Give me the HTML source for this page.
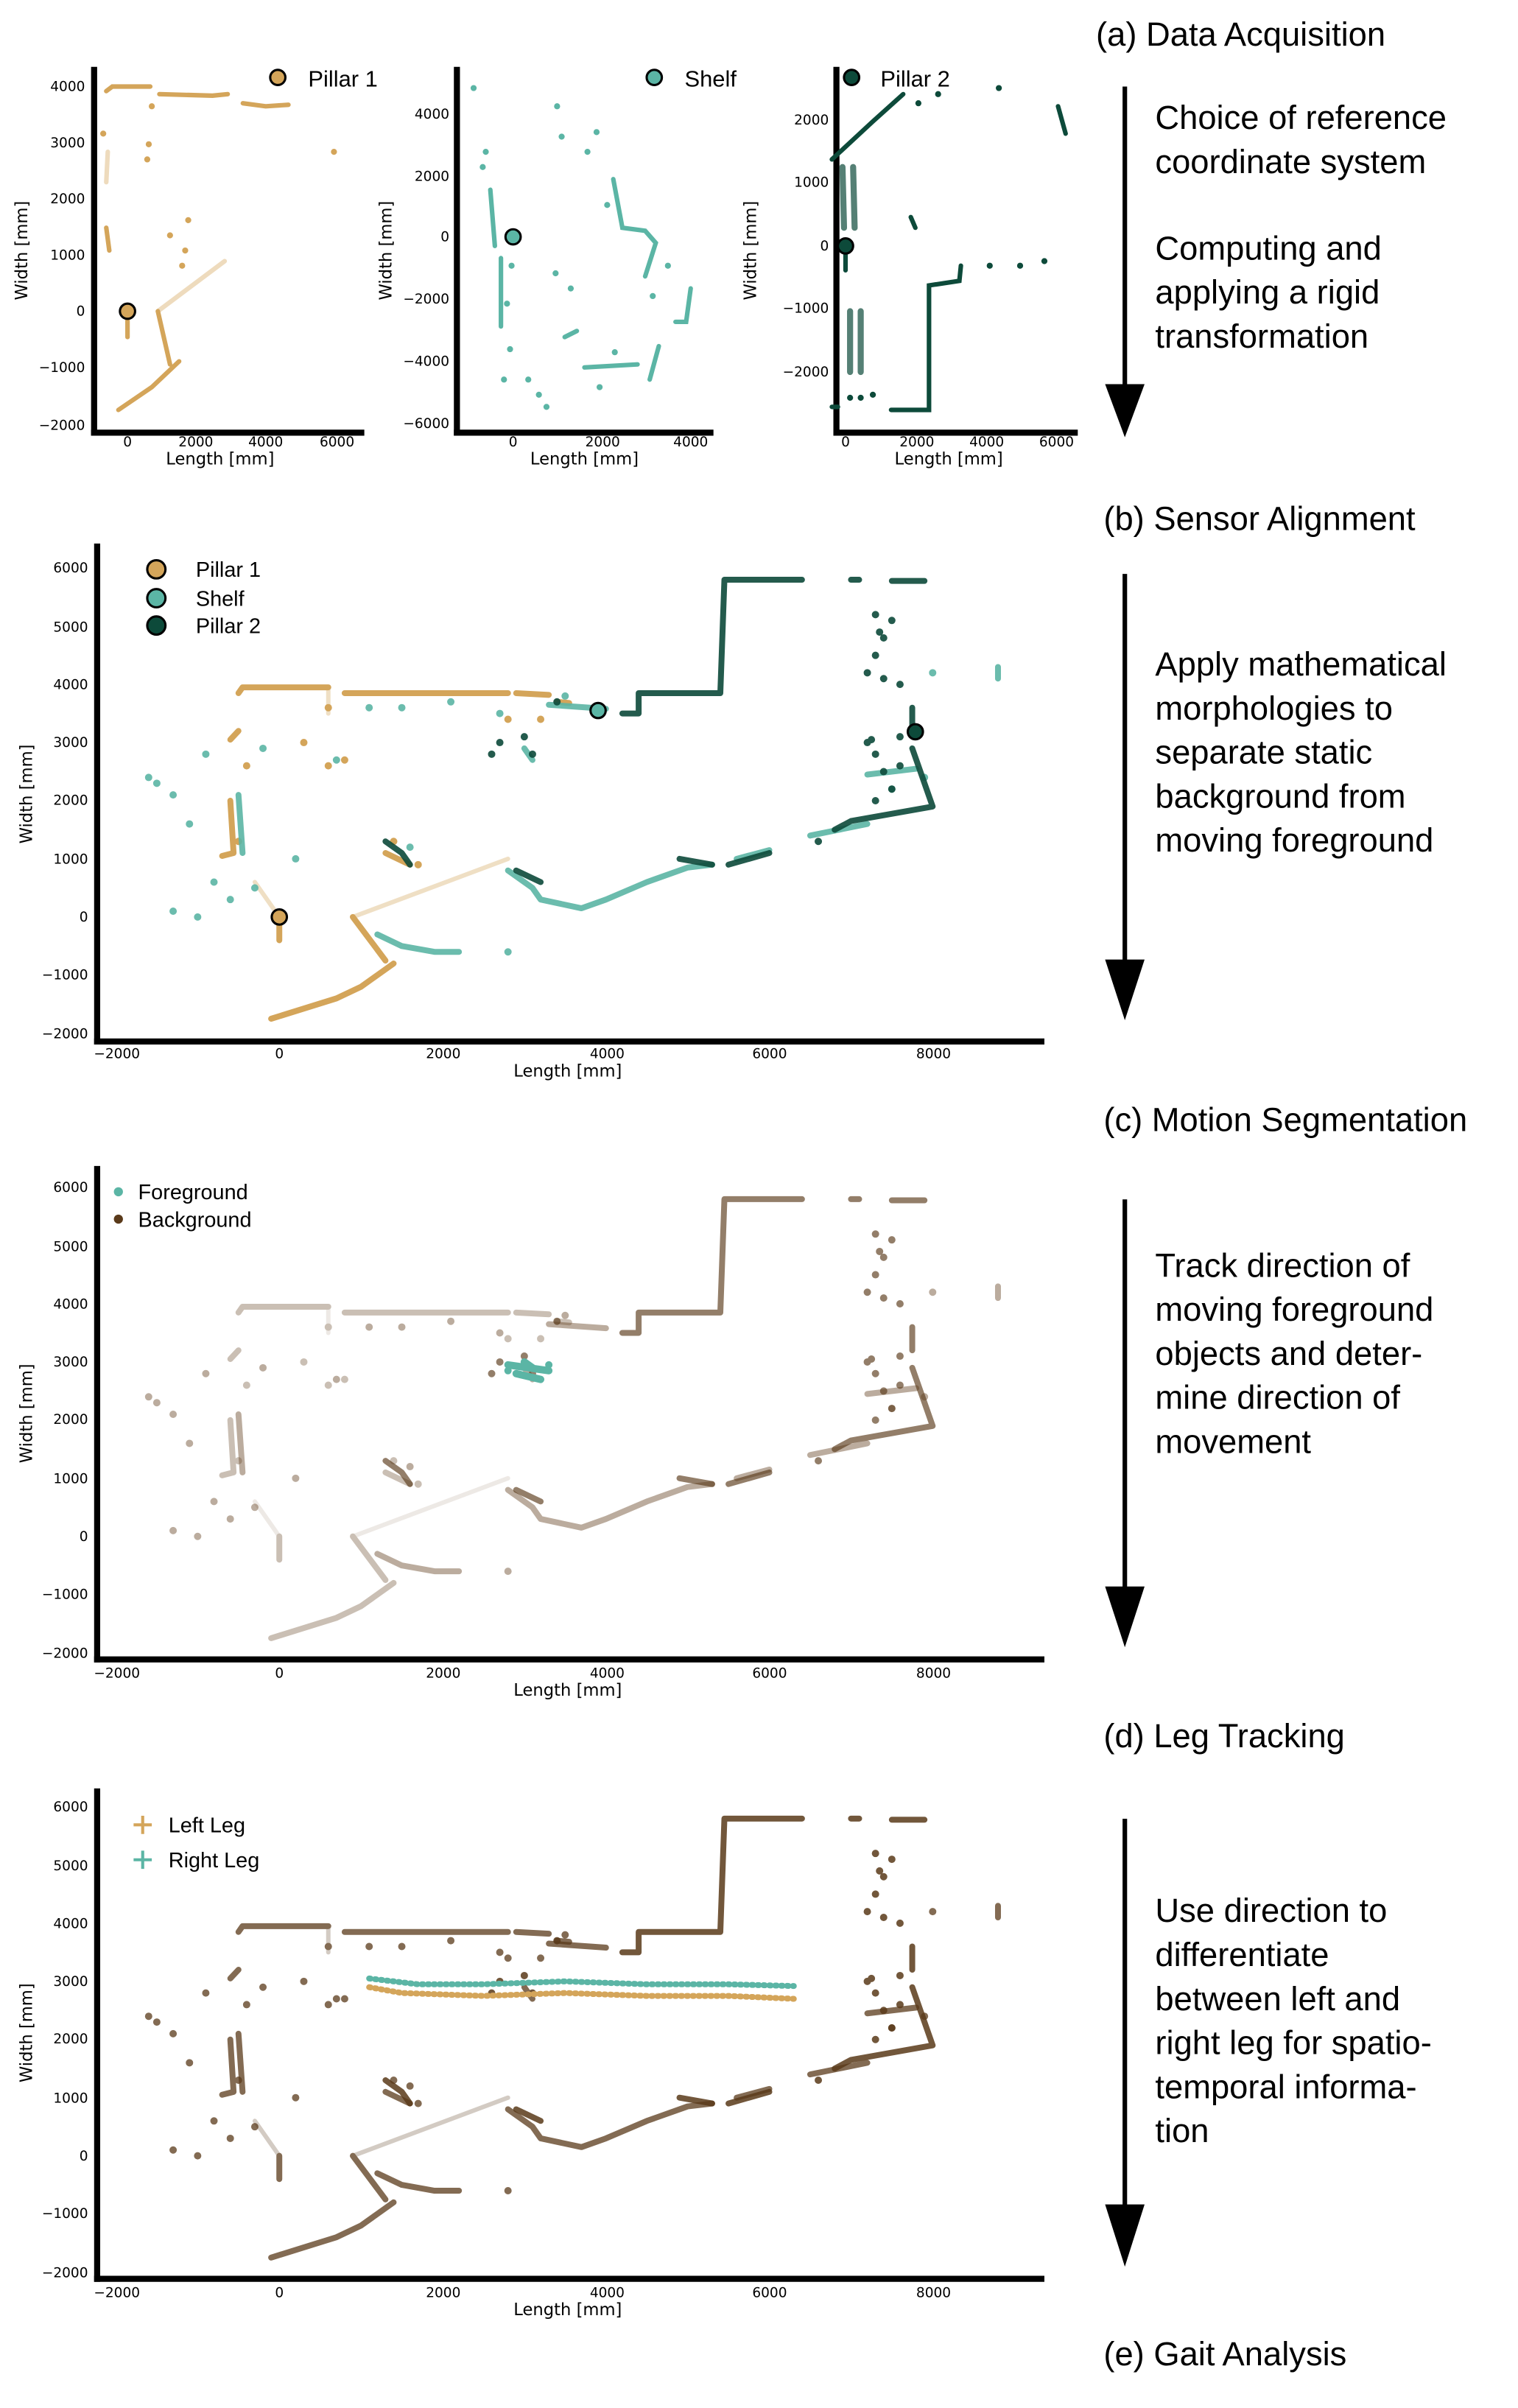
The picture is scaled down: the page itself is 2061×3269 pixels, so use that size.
<!DOCTYPE html>
<html><head><meta charset="utf-8"><style>
html,body{margin:0;padding:0;background:#fff;}
svg{display:block;}
.t{font-family:"Liberation Sans","DejaVu Sans",sans-serif;fill:#000;}
.tk{font-family:"DejaVu Sans","Liberation Sans",sans-serif;font-size:9px;fill:#000;}
.lb{font-family:"DejaVu Sans","Liberation Sans",sans-serif;font-size:11px;fill:#000;}
.d path{fill:none;vector-effect:non-scaling-stroke;stroke-linecap:round;stroke-linejoin:round;}
</style></head><body>
<svg width="2061" height="3269" viewBox="0 0 1000 1586.1" xmlns="http://www.w3.org/2000/svg">
<defs>
<g id="P1" class="d">
<path stroke-width="8" d="M-500 3850 L-450 3950 L600 3950 M800 3850 L2800 3850 M2900 3850 L3300 3820 M3400 3700 L3550 3680"/>
<path stroke-width="8" d="M-600 3050 L-500 3200 M-700 1050 L-560 1100 L-600 2000 M0 -400 L0 0 M900 0 L1300 -750 M-100 -1750 L700 -1400 L1000 -1200 L1400 -800 M1300 1100 L1600 900"/>
<path stroke-width="6" opacity="0.35" d="M900 0 L2800 1000 M-300 600 L0 0 M600 3900 L600 3500"/>
<path stroke-width="10" d="M300 3000 l0 0 M600 3600 l0 0 M800 2700 l0 0 M2800 3400 l0 0 M-400 2600 l0 0 M1400 1300 l0 0 M600 2600 l0 0 M3200 3400 l0 0 M1700 900 l0 0 M-500 1300 l0 0"/>
</g>
<g id="SH" class="d">
<path stroke-width="8" d="M1200 -300 L1500 -500 L1900 -600 L2200 -600 M2800 800 L3100 500 L3200 300 L3700 150 L4000 300 L4500 600 L5000 850 L5300 900 M5600 1000 L6000 1150 M6500 1400 L7200 1600 M-500 2100 L-450 1100 M3300 3650 L4000 3580 M8800 4300 L8800 4100 M7200 2450 L7800 2550 M3000 2900 L3100 2700"/>
<path stroke-width="10" d="M-1600 2400 l0 0 M-1500 2300 l0 0 M-1300 2100 l0 0 M-900 2800 l0 0 M-800 600 l0 0 M-300 500 l0 0 M-1300 100 l0 0 M-600 300 l0 0 M2700 3500 l0 0 M2100 3700 l0 0 M1600 1200 l0 0 M200 1000 l0 0 M2800 -600 l0 0 M8000 4200 l0 0 M-200 2900 l0 0 M1100 3600 l0 0 M1500 3600 l0 0 M3500 3800 l0 0 M700 2700 l0 0 M-1100 1600 l0 0 M-1000 0 l0 0 M7500 2200 l0 0 M7900 2400 l0 0"/>
</g>
<g id="P2" class="d">
<path stroke-width="8" d="M4200 3500 L4400 3500 L4400 3850 L5400 3850 L5450 5800 L6400 5800 M7000 5800 L7100 5800 M7500 5780 L7900 5780 M6800 1500 L7000 1650 L8000 1900 L7750 2900 M7750 3200 L7750 3600 M5500 900 L6000 1100 M4900 1000 L5300 900 M2900 800 L3200 600 M1300 1300 L1500 1100 L1600 900"/>
<path stroke-width="10" d="M7200 4200 l0 0 M7300 4500 l0 0 M7400 4800 l0 0 M7500 5100 l0 0 M7400 4100 l0 0 M7600 4000 l0 0 M7200 3000 l0 0 M7300 2800 l0 0 M7400 2500 l0 0 M7500 2200 l0 0 M7300 2000 l0 0 M2600 2800 l0 0 M3100 2800 l0 0 M2700 3000 l0 0 M7350 4900 l0 0 M7300 5200 l0 0 M7600 3100 l0 0 M7250 3050 l0 0 M6600 1300 l0 0 M7600 2600 l0 0 M3400 3700 l0 0 M3000 3100 l0 0"/>
</g>
</defs>

<!-- ===== (a) small panels ===== -->
<text class="t" x="722" y="30" font-size="22">(a) Data Acquisition</text>
<g>
<line x1="62" y1="44" x2="62" y2="287" stroke="#000" stroke-width="4"/>
<line x1="60" y1="285" x2="240" y2="285" stroke="#000" stroke-width="4"/>
<g fill="none" stroke="#d4a55a" stroke-width="3" stroke-linecap="round">
<path d="M70 60 L74 57 L99 57 M105 62 L140 63 L150 62 M160 68 L175 70 L190 69 M70 150 L72 165 M84 205 L84 222 M104 205 L112 240 M78 270 L100 255 L118 238"/>
<path opacity="0.4" d="M104 205 L148 172 M70 120 L71 100"/>
<path stroke-width="4" d="M100 70 l0 0 M98 95 l0 0 M97 105 l0 0 M124 145 l0 0 M122 165 l0 0 M112 155 l0 0 M220 100 l0 0 M120 175 l0 0 M68 88 l0 0"/>
</g>
<circle cx="84" cy="205" r="5" fill="#d4a55a" stroke="#000" stroke-width="1.5"/>
<circle cx="183" cy="51" r="5" fill="#d4a55a" stroke="#000" stroke-width="1.5"/>
<text class="t" x="203" y="57" font-size="15">Pillar 1</text>
<g class="tk" text-anchor="end"><text x="56" y="60">4000</text><text x="56" y="97">3000</text><text x="56" y="134">2000</text><text x="56" y="171">1000</text><text x="56" y="208">0</text><text x="56" y="245">−1000</text><text x="56" y="283">−2000</text></g>
<g class="tk" text-anchor="middle"><text x="84" y="294">0</text><text x="129" y="294">2000</text><text x="175" y="294">4000</text><text x="222" y="294">6000</text></g>
<text class="lb" x="145" y="306" text-anchor="middle">Length [mm]</text>
<text class="lb" transform="translate(18,165) rotate(-90)" text-anchor="middle">Width [mm]</text>
</g>
<g>
<line x1="301" y1="44" x2="301" y2="287" stroke="#000" stroke-width="4"/>
<line x1="299" y1="285" x2="470" y2="285" stroke="#000" stroke-width="4"/>
<g fill="none" stroke="#5bb5a5" stroke-width="3" stroke-linecap="round">
<path d="M323 125 L326 162 M404 118 L410 150 L425 152 L432 160 L425 182 M455 190 L452 212 L445 212 M385 242 L420 240 M434 228 L428 250 M330 170 L330 215 M372 222 L380 218"/>
<path stroke-width="4" d="M312 58 l0 0 M320 100 l0 0 M318 110 l0 0 M367 70 l0 0 M370 90 l0 0 M393 87 l0 0 M387 100 l0 0 M400 135 l0 0 M337 175 l0 0 M334 200 l0 0 M336 230 l0 0 M348 250 l0 0 M355 260 l0 0 M360 268 l0 0 M395 255 l0 0 M430 195 l0 0 M440 175 l0 0 M332 250 l0 0 M405 232 l0 0 M376 190 l0 0 M366 180 l0 0"/>
</g>
<circle cx="338" cy="156" r="5" fill="#5bb5a5" stroke="#000" stroke-width="1.5"/>
<circle cx="431" cy="51" r="5" fill="#5bb5a5" stroke="#000" stroke-width="1.5"/>
<text class="t" x="451" y="57" font-size="15">Shelf</text>
<g class="tk" text-anchor="end"><text x="296" y="78">4000</text><text x="296" y="119">2000</text><text x="296" y="159">0</text><text x="296" y="200">−2000</text><text x="296" y="241">−4000</text><text x="296" y="282">−6000</text></g>
<g class="tk" text-anchor="middle"><text x="338" y="294">0</text><text x="397" y="294">2000</text><text x="455" y="294">4000</text></g>
<text class="lb" x="385" y="306" text-anchor="middle">Length [mm]</text>
<text class="lb" transform="translate(258,165) rotate(-90)" text-anchor="middle">Width [mm]</text>
</g>
<g>
<line x1="551" y1="44" x2="551" y2="287" stroke="#000" stroke-width="4"/>
<line x1="549" y1="285" x2="710" y2="285" stroke="#000" stroke-width="4"/>
<g fill="none" stroke="#0d4a3a" stroke-width="3" stroke-linecap="round">
<path d="M548 105 L575 80 L595 62 M587 270 L612 270 L612 188 L632 185 L633 175 M548 268 L552 268 M557 162 L557 178 M697 70 L702 88 M600 143 L603 150"/>
<path opacity="0.7" stroke-width="4" d="M555 110 L556 150 M562 110 L563 150 M560 205 L560 245 M567 205 L567 245"/>
<path stroke-width="4" d="M658 58 l0 0 M605 68 l0 0 M618 62 l0 0 M560 262 l0 0 M567 262 l0 0 M652 175 l0 0 M672 175 l0 0 M688 172 l0 0 M575 260 l0 0"/>
</g>
<circle cx="557" cy="162" r="5" fill="#0d4a3a" stroke="#000" stroke-width="1.5"/>
<circle cx="561" cy="51" r="5" fill="#0d4a3a" stroke="#000" stroke-width="1.5"/>
<text class="t" x="580" y="57" font-size="15">Pillar 2</text>
<g class="tk" text-anchor="end"><text x="546" y="82">2000</text><text x="546" y="123">1000</text><text x="546" y="165">0</text><text x="546" y="206">−1000</text><text x="546" y="248">−2000</text></g>
<g class="tk" text-anchor="middle"><text x="557" y="294">0</text><text x="604" y="294">2000</text><text x="650" y="294">4000</text><text x="696" y="294">6000</text></g>
<text class="lb" x="625" y="306" text-anchor="middle">Length [mm]</text>
<text class="lb" transform="translate(498,165) rotate(-90)" text-anchor="middle">Width [mm]</text>
</g>
<line x1="741" y1="57" x2="741" y2="258" stroke="#000" stroke-width="3"/>
<polygon points="728,253 754,253 741,288" fill="#000"/>
<g class="t" font-size="22"><text x="761" y="85">Choice of reference</text><text x="761" y="114">coordinate system</text><text x="761" y="171">Computing and</text><text x="761" y="200">applying a rigid</text><text x="761" y="229">transformation</text></g>

<!-- ===== (b) ===== -->
<text class="t" x="727" y="349" font-size="22">(b) Sensor Alignment</text>
<line x1="64" y1="358" x2="64" y2="688" stroke="#000" stroke-width="4"/>
<line x1="62" y1="686" x2="688" y2="686" stroke="#000" stroke-width="4"/>
<g transform="translate(184,604) scale(0.0538,-0.0383)">
<use href="#P1" stroke="#d4a55a"/>
<use href="#SH" stroke="#5bb5a5" opacity="0.9"/>
<use href="#P2" stroke="#0d4a3a" opacity="0.9"/>
</g>
<circle cx="184" cy="604" r="5" fill="#d4a55a" stroke="#000" stroke-width="1.5"/>
<circle cx="394" cy="468" r="5" fill="#5bb5a5" stroke="#000" stroke-width="1.5"/>
<circle cx="603" cy="482" r="5" fill="#0d4a3a" stroke="#000" stroke-width="1.5"/>
<circle cx="103" cy="375" r="6" fill="#d4a55a" stroke="#000" stroke-width="1.5"/>
<circle cx="103" cy="394" r="6" fill="#5bb5a5" stroke="#000" stroke-width="1.5"/>
<circle cx="103" cy="412" r="6" fill="#0d4a3a" stroke="#000" stroke-width="1.5"/>
<g class="t" font-size="14"><text x="129" y="380">Pillar 1</text><text x="129" y="399">Shelf</text><text x="129" y="417">Pillar 2</text></g>
<g id="ax1">
<g class="tk" text-anchor="end"><text x="58" y="377">6000</text><text x="58" y="416">5000</text><text x="58" y="454">4000</text><text x="58" y="492">3000</text><text x="58" y="530">2000</text><text x="58" y="569">1000</text><text x="58" y="607">0</text><text x="58" y="645">−1000</text><text x="58" y="684">−2000</text></g>
<g class="tk" text-anchor="middle"><text x="77" y="697">−2000</text><text x="184" y="697">0</text><text x="292" y="697">2000</text><text x="400" y="697">4000</text><text x="507" y="697">6000</text><text x="615" y="697">8000</text></g>
<text class="lb" x="374" y="709" text-anchor="middle">Length [mm]</text>
<text class="lb" transform="translate(21,523) rotate(-90)" text-anchor="middle">Width [mm]</text>
</g>
<line x1="741" y1="378" x2="741" y2="640" stroke="#000" stroke-width="3"/>
<polygon points="728,632 754,632 741,672" fill="#000"/>
<g class="t" font-size="22"><text x="761" y="445">Apply mathematical</text><text x="761" y="474">morphologies to</text><text x="761" y="503">separate static</text><text x="761" y="532">background from</text><text x="761" y="561">moving foreground</text></g>

<!-- ===== (c) ===== -->
<text class="t" x="727" y="745" font-size="22">(c) Motion Segmentation</text>
<line x1="64" y1="768" x2="64" y2="1095" stroke="#000" stroke-width="4"/>
<line x1="62" y1="1093" x2="688" y2="1093" stroke="#000" stroke-width="4"/>
<g transform="translate(184,1012) scale(0.0538,-0.0383)">
<use href="#P1" stroke="#6b4a2a" opacity="0.35"/>
<use href="#SH" stroke="#6b4a2a" opacity="0.45"/>
<use href="#P2" stroke="#5a3a1a" opacity="0.65"/>
<g class="d"><path stroke="#5bb5a5" stroke-width="10" d="M2800 2950 L3300 2850 M2900 2800 L3200 2700 M3000 3000 L3100 2900 M2800 2850 l0 0 M3300 2950 l0 0"/></g>
</g>
<circle cx="78" cy="785" r="3" fill="#5bb5a5"/>
<circle cx="78" cy="803" r="3" fill="#5a3a1a"/>
<g class="t" font-size="14"><text x="91" y="790">Foreground</text><text x="91" y="808">Background</text></g>
<use href="#ax1" transform="translate(0,408)"/>
<line x1="741" y1="790" x2="741" y2="1050" stroke="#000" stroke-width="3"/>
<polygon points="728,1045 754,1045 741,1085" fill="#000"/>
<g class="t" font-size="22"><text x="761" y="841">Track direction of</text><text x="761" y="870">moving foreground</text><text x="761" y="899">objects and deter-</text><text x="761" y="928">mine direction of</text><text x="761" y="957">movement</text></g>

<!-- ===== (d) ===== -->
<text class="t" x="727" y="1151" font-size="22">(d) Leg Tracking</text>
<line x1="64" y1="1178" x2="64" y2="1503" stroke="#000" stroke-width="4"/>
<line x1="62" y1="1501" x2="688" y2="1501" stroke="#000" stroke-width="4"/>
<g transform="translate(184,1420) scale(0.0538,-0.0383)">
<use href="#P1" stroke="#5a3a1a" opacity="0.75"/>
<use href="#SH" stroke="#5a3a1a" opacity="0.75"/>
<use href="#P2" stroke="#5a3a1a" opacity="0.85"/>
<g class="d">
<path stroke="#d4a55a" stroke-width="8" stroke-dasharray="2 6" d="M1100 2900 L1500 2800 L2500 2750 L3500 2800 L4500 2750 L5500 2750 L6300 2700"/>
<path stroke="#5bb5a5" stroke-width="8" stroke-dasharray="2 6" d="M1100 3050 L1700 2950 L2500 2950 L3500 3000 L4500 2950 L5500 2950 L6300 2920"/>
</g>
</g>
<g stroke-width="2"><path d="M88 1202 h12 M94 1196 v12" stroke="#d4a55a"/><path d="M88 1225 h12 M94 1219 v12" stroke="#5bb5a5"/></g>
<g class="t" font-size="14"><text x="111" y="1207">Left Leg</text><text x="111" y="1230">Right Leg</text></g>
<use href="#ax1" transform="translate(0,816)"/>
<line x1="741" y1="1198" x2="741" y2="1458" stroke="#000" stroke-width="3"/>
<polygon points="728,1452 754,1452 741,1493" fill="#000"/>
<g class="t" font-size="22"><text x="761" y="1266">Use direction to</text><text x="761" y="1295">differentiate</text><text x="761" y="1324">between left and</text><text x="761" y="1353">right leg for spatio-</text><text x="761" y="1382">temporal informa-</text><text x="761" y="1411">tion</text></g>

<text class="t" x="727" y="1558" font-size="22">(e) Gait Analysis</text>
</svg>
</body></html>
